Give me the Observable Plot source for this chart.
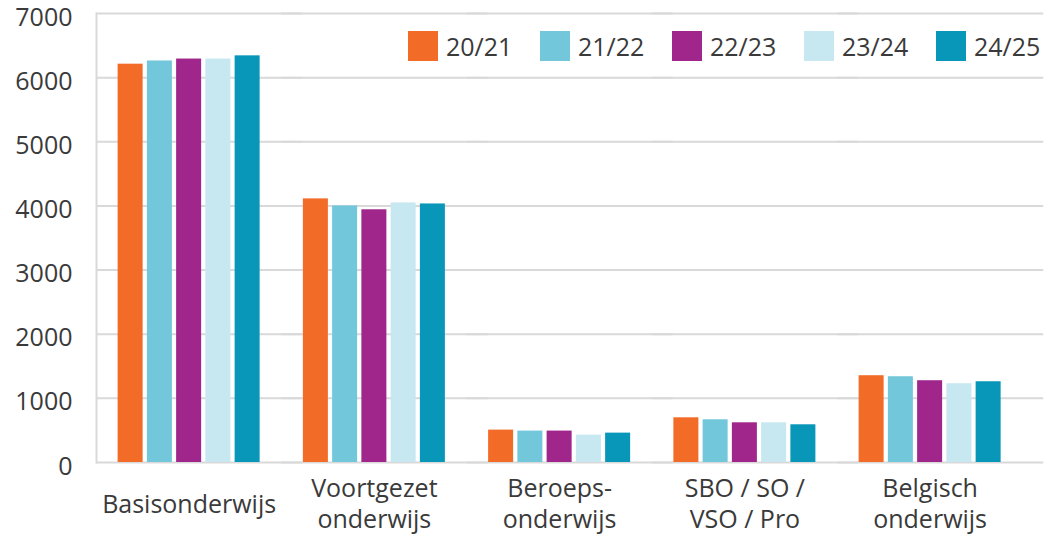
<!DOCTYPE html>
<html>
<head>
<meta charset="utf-8">
<script src="https://cdn.jsdelivr.net/npm/d3@7"></script>
<script src="https://cdn.jsdelivr.net/npm/@observablehq/plot@0.6"></script>
<style>
  html, body { margin: 0; padding: 0; background: #ffffff; }
  #wrap { position: relative; width: 1046px; height: 535px; font-family: "Open Sans", sans-serif; color: #3a3a3a; }
  #legend { position: absolute; top: 31px; left: 408px; display: flex; }
  .item { display: flex; align-items: center; width: 132px; height: 30px; font-size: 25px; }
  .sw { width: 30px; height: 30px; margin-right: 8px; flex: none; }
</style>
</head>
<body>
<div id="wrap"><div id="legend"></div></div>
<script>
const categories = ["Basisonderwijs", "Voortgezet\nonderwijs", "Beroeps-\nonderwijs", "SBO / SO /\nVSO / Pro", "Belgisch\nonderwijs"];
const years = ["20/21", "21/22", "22/23", "23/24", "24/25"];
const colors = ["#F26B27", "#72C7DB", "#A0268C", "#C7E8F1", "#0897B9"];
const y2021 = [6210, 4110, 505, 697, 1353];
const y2122 = [6260, 4000, 490, 666, 1337];
const y2223 = [6290, 3940, 490, 619, 1275];
const y2324 = [6290, 4047, 427, 619, 1228];
const y2425 = [6340, 4031, 458, 588, 1259];
const yTicks = [0, 1000, 2000, 3000, 4000, 5000, 6000, 7000];

const series = [y2021, y2122, y2223, y2324, y2425];
const data = [];
categories.forEach((c, i) => {
  years.forEach((yr, j) => data.push({category: c, year: yr, value: series[j][i]}));
});

const chart = Plot.plot({
  width: 1046,
  height: 535,
  marginLeft: 96,
  marginRight: 4,
  marginTop: 13,
  marginBottom: 73,
  style: {fontFamily: "'Open Sans', sans-serif", fontSize: "25px", color: "#3a3a3a", background: "#ffffff", overflow: "visible"},
  fx: {domain: categories, paddingInner: 0, paddingOuter: 0.0533, align: 0, round: false, label: null},
  x: {domain: years, paddingInner: 0.145, paddingOuter: 0.739, round: false, axis: null},
  y: {domain: [0, 7000], label: null},
  color: {domain: years, range: colors},
  marks: [
    Plot.ruleY(yTicks, {stroke: "#d9d9d9", strokeWidth: 2, insetRight: -21}),
    Plot.frame({anchor: "left", facetAnchor: "left", stroke: "#d9d9d9", strokeWidth: 2}),
    Plot.barY(data, {fx: "category", x: "year", y: "value", fill: "year"}),
    Plot.axisY({ticks: yTicks, tickSize: 0, tickPadding: 24, dy: 4, tickFormat: d => String(d), label: null, fontSize: 25}),
    Plot.axisFx({anchor: "bottom", tickSize: 0, tickPadding: 40, lineAnchor: "middle", lineHeight: 1.26, fontSize: 25, label: null})
  ]
});
document.getElementById("wrap").prepend(chart);

const legend = document.getElementById("legend");
years.forEach((yr, i) => {
  const item = document.createElement("div");
  item.className = "item";
  const sw = document.createElement("span");
  sw.className = "sw";
  sw.style.background = colors[i];
  const lab = document.createElement("span");
  lab.textContent = yr;
  item.append(sw, lab);
  legend.append(item);
});
</script>
</body>
</html>
